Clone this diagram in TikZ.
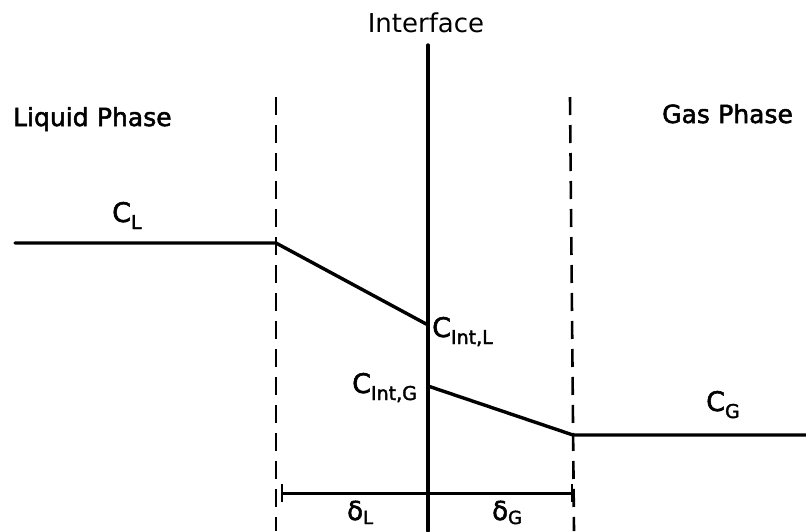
\documentclass[tikz,border=0pt]{standalone}
\usepackage{fontspec}
\setmainfont{DejaVu Sans}
\newfontfamily\heavyfont{DejaVu Sans}[FakeBold=2]
\usetikzlibrary{arrows.meta}
\newcommand{\conclabel}[1]{\fontsize{27}{27}\selectfont C\raisebox{-7pt}{\fontsize{19}{19}\selectfont #1}}
\newcommand{\filmlabel}[1]{\fontsize{26}{26}\selectfont δ\raisebox{-4pt}{\fontsize{18}{18}\selectfont #1}}
\begin{document}
\begin{tikzpicture}[x=1pt,y=-1pt,
  prof/.style={line width=3.4pt,line cap=round,line join=round},
  film/.style={line width=2.6pt,dash pattern=on 18pt off 10pt},
  lab/.style={inner sep=0pt,anchor=base west,font=\heavyfont\fontsize{25}{25}\selectfont},
  conc/.style={inner sep=0pt,anchor=base west,font=\heavyfont}]
\useasboundingbox (0,0) rectangle (806,531);
% coordinates
\coordinate (itop) at (428,45);
\coordinate (ibot) at (428,531);
\coordinate (ltop) at (276,97);
\coordinate (lbot) at (276,531);
\coordinate (rtop) at (570,97);
\coordinate (rbot) at (574,531);
\coordinate (l0) at (15,243);
\coordinate (l1) at (276,243);
\coordinate (l2) at (428,325);
\coordinate (g0) at (428,386);
\coordinate (g1) at (573,435);
\coordinate (g2) at (806,435);
\coordinate (dl) at (281,493);
\coordinate (dr) at (573,493);
% lines
\draw[prof] (itop) -- (ibot);
\draw[film] (ltop) -- (lbot);
\draw[film] (rtop) -- (rbot);
\draw[prof] (l0) -- (l1) -- (l2);
\draw[prof] (g0) -- (g1) -- (g2);
\draw[line width=3pt,{Bar[width=18pt,line width=2.4pt]}-{Bar[width=18pt,line width=2.4pt]}] (dl) -- (dr);
% labels
\node[inner sep=0pt,anchor=base,font=\fontsize{26}{26}\selectfont] (interface) at (426,32) {Interface};
\node[lab] (liquid) at (13,126) {Liquid\,\,Phase};
\node[lab] (gas) at (662,123) {Gas\,\,Phase};
\node[conc] (cl) at (112,222) {\conclabel{L}};
\node[conc] (cil) at (432,337) {\conclabel{Int,L}};
\node[conc] (cig) at (352,393) {\conclabel{Int,G}};
\node[conc] (cg) at (706,411) {\conclabel{G}};
\node[conc] (dL) at (347,520) {\filmlabel{L}};
\node[conc] (dG) at (492,520) {\filmlabel{G}};
\end{tikzpicture}
\end{document}
